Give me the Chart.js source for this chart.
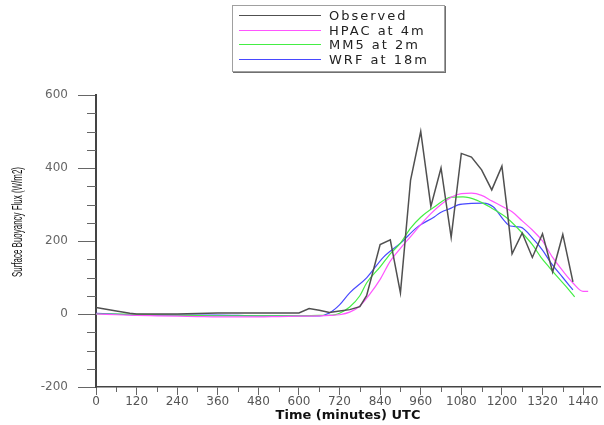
<!DOCTYPE html>
<html>
<head>
<meta charset="utf-8">
<script src="https://cdn.jsdelivr.net/npm/chart.js@4.4.1/dist/chart.umd.min.js"></script>
<style>
  body { margin: 0; background: #fff; }
  #wrap { position: relative; width: 604px; height: 425px; }
  #legend {
    position: absolute; left: 232px; top: 5px; width: 211px; height: 65px;
    border: 1px solid #a0a0a0; box-shadow: 1px 1px 0 #707070; background: #fff;
    font-family: 'DejaVu Sans', sans-serif; font-size: 13px; color: #222;
  }
  .row { position: absolute; left: 0; width: 100%; height: 0; }
  .sw { position: absolute; left: 6px; width: 82px; top: 0; border-top: 1px solid; }
  .lb { position: absolute; left: 96px; top: -7px; white-space: nowrap; letter-spacing: 2px; line-height: 16px; }
</style>
</head>
<body>
<div id="wrap">
  <canvas id="chart" width="604" height="425"></canvas>
  <div id="legend"></div>
</div>
<script>
// observed and modelled flux, time in minutes UTC
const obsMinutes  = [0, 30, 60, 100, 120, 240, 360, 480, 600, 630, 660, 690, 720, 750, 780, 800, 840, 870, 900, 930, 960, 990, 1020, 1050, 1080, 1110, 1140, 1170, 1200, 1215, 1230, 1260, 1290, 1320, 1350, 1380, 1410];
const obsFlux     = [18, 13, 8, 2, 0, 0, 3, 3, 3, 15, 10, 4, 8, 12, 20, 50, 190, 203, 58, 367, 500, 295, 400, 210, 440, 430, 395, 340, 405, 290, 165, 222, 155, 220, 115, 218, 88];

const hpacMinutes = [0, 60, 120, 180, 240, 300, 360, 420, 480, 540, 600, 660, 690, 720, 750, 780, 810, 840, 870, 900, 930, 960, 990, 1020, 1050, 1080, 1110, 1140, 1170, 1200, 1230, 1260, 1290, 1320, 1350, 1380, 1410, 1440, 1455];
const hpacFlux    = [0, -2, -4, -5, -6, -7, -8, -8, -8, -7, -6, -5, -4, -2, 5, 22, 55, 95, 145, 180, 212, 245, 275, 300, 320, 330, 331, 325, 310, 295, 280, 255, 230, 200, 155, 118, 85, 62, 62];

const mm5Minutes  = [0, 60, 120, 240, 360, 480, 600, 660, 700, 720, 750, 780, 800, 840, 870, 900, 930, 960, 1000, 1050, 1085, 1125, 1170, 1215, 1260, 1290, 1315, 1340, 1365, 1390, 1415];
const mm5Flux     = [0, 0, -1, -3, -5, -5, -5, -4, -3, 2, 19, 50, 85, 129, 165, 194, 235, 265, 293, 320, 321, 312, 290, 263, 222, 190, 156, 128, 101, 75, 47];

const wrfMinutes  = [0, 60, 120, 240, 360, 480, 600, 660, 690, 720, 750, 800, 850, 900, 950, 1000, 1020, 1050, 1070, 1110, 1145, 1175, 1205, 1225, 1255, 1295, 1320, 1345, 1380, 1410];
const wrfFlux     = [2, 0, -3, -3, -3, -5, -5, -5, 3, 25, 58, 99, 156, 194, 238, 266, 279, 290, 299, 303, 304, 293, 258, 241, 238, 203, 175, 140, 100, 66];

const seriesNames = ['Observed', 'HPAC at 4m', 'MM5 at 2m', 'WRF at 18m'];
const seriesColors = ['#505050', '#ff55ff', '#44ee44', '#4848ff'];

const xTickValues = [0, 120, 240, 360, 480, 600, 720, 840, 960, 1080, 1200, 1320, 1440];
const yTickValues = [-200, 0, 200, 400, 600];
const yTitle = 'Surface Buoyancy Flux (W/m2)';

const toPts = (xs, ys) => xs.map((x, i) => ({ x: x, y: ys[i] }));

// legend as html
const legendEl = document.getElementById('legend');
const rowTops = [9, 24, 38, 53];
seriesNames.forEach((name, i) => {
  const row = document.createElement('div');
  row.className = 'row';
  row.style.top = rowTops[i] + 'px';
  row.innerHTML = '<div class="sw" style="border-color:' + seriesColors[i] + '"></div><div class="lb">' + name + '</div>';
  legendEl.appendChild(row);
});

// small ticks between the labelled ones + narrow y title
const extras = {
  id: 'extras',
  afterDraw(chart) {
    const { ctx, scales: { x, y } } = chart;
    ctx.save();
    ctx.strokeStyle = '#666';
    ctx.lineWidth = 1;
    ctx.beginPath();
    for (let v = -150; v < 600; v += 50) {
      if (v % 200 === 0) continue;
      const py = Math.round(y.getPixelForValue(v)) + 0.5;
      ctx.moveTo(x.left - 9, py);
      ctx.lineTo(x.left, py);
    }
    for (let v = 60; v < 1440; v += 120) {
      const px = Math.round(x.getPixelForValue(v)) + 0.5;
      ctx.moveTo(px, y.bottom);
      ctx.lineTo(px, y.bottom + 5);
    }
    ctx.stroke();

    ctx.translate(18, 222);
    ctx.rotate(-Math.PI / 2);
    ctx.font = '14px "Liberation Sans", sans-serif';
    ctx.fillStyle = '#111';
    ctx.textAlign = 'center';
    ctx.textBaseline = 'middle';
    ctx.fillText(yTitle, 0, 0, 110);
    ctx.restore();
  }
};

const mk = (i, xs, ys, extra) => Object.assign({
  label: seriesNames[i],
  data: toPts(xs, ys),
  borderColor: seriesColors[i],
  borderWidth: 1.2,
  pointRadius: 0,
  fill: false,
  cubicInterpolationMode: 'monotone'
}, extra || {});

new Chart(document.getElementById('chart').getContext('2d'), {
  type: 'line',
  data: {
    datasets: [
      mk(0, obsMinutes, obsFlux, { borderWidth: 1.5, cubicInterpolationMode: 'default', tension: 0 }),
      mk(1, hpacMinutes, hpacFlux),
      mk(2, mm5Minutes, mm5Flux),
      mk(3, wrfMinutes, wrfFlux)
    ]
  },
  options: {
    responsive: false,
    animation: false,
    layout: { padding: { top: 95, right: 4, left: 0, bottom: 0 } },
    plugins: { legend: { display: false }, tooltip: { enabled: false } },
    scales: {
      x: {
        type: 'linear',
        min: 0,
        max: 1490,
        afterBuildTicks: s => { s.ticks = xTickValues.map(v => ({ value: v })); },
        afterFit: s => { s.height = 38; },
        grid: { drawOnChartArea: false, tickLength: 8, color: '#666', tickColor: '#666' },
        border: { color: '#444', width: 1.5 },
        ticks: { color: '#555', padding: 0, maxRotation: 0, autoSkip: false, callback: v => String(v), font: { family: 'DejaVu Sans', size: 12 } },
        title: {
          display: true,
          text: 'Time (minutes) UTC',
          color: '#111',
          padding: { top: 0, bottom: 2 },
          font: { family: 'DejaVu Sans', size: 13, weight: 'bold' }
        }
      },
      y: {
        type: 'linear',
        min: -200,
        max: 600,
        afterBuildTicks: s => { s.ticks = yTickValues.map(v => ({ value: v })); },
        afterFit: s => { s.width = 96; },
        grid: { drawOnChartArea: false, tickLength: 18, color: '#666', tickColor: '#666' },
        border: { color: '#444', width: 2 },
        ticks: { color: '#666', padding: 10, callback: v => String(v), font: { family: 'DejaVu Sans', size: 12 } }
      }
    }
  },
  plugins: [extras]
});
</script>
</body>
</html>
